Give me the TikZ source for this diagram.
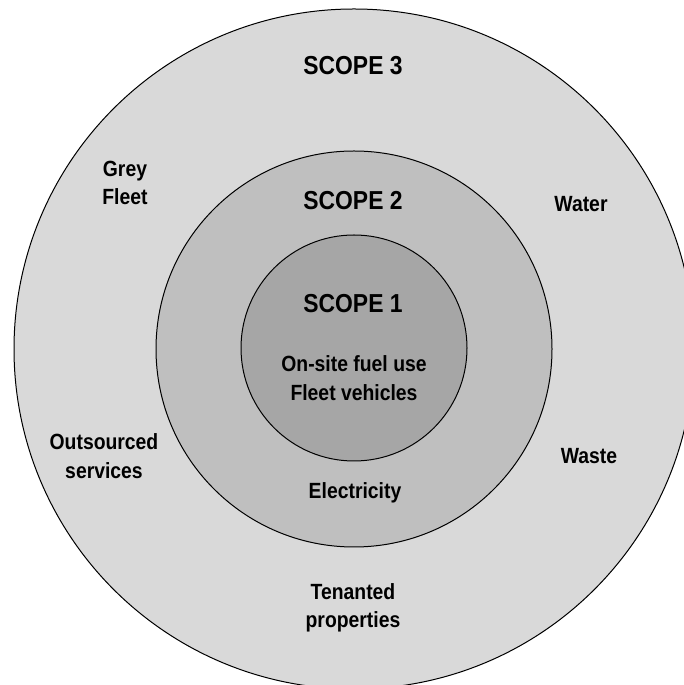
\documentclass[tikz,border=0pt]{standalone}
\usepackage{fontspec}
\setmainfont{Liberation Sans}[FakeStretch=0.88]
\usetikzlibrary{positioning}
\definecolor{ringC}{RGB}{217,217,217}
\definecolor{ringB}{RGB}{191,191,191}
\definecolor{ringA}{RGB}{166,166,166}

\begin{document}
\begin{tikzpicture}[x=1pt,y=1pt,
  ring/.style={circle,draw=black,line width=1pt,inner sep=0pt},
  title/.style={font=\fontsize{26}{30}\selectfont\bfseries},
  item/.style={font=\fontsize{22}{28.5}\selectfont\bfseries,align=center}]
\useasboundingbox (0,0) rectangle (683,685);
% rings, outside in
\node[ring,fill=ringC,minimum size=680pt] (s3) at (354,336) {};
\node[ring,fill=ringB,minimum size=396pt] (s2) at (354,336) {};
\node[ring,fill=ringA,minimum size=226pt] (s1) at (354,337) {};
% scope titles
\node[title] (t3) at (353,619) {SCOPE 3};
\node[title] (t2) at (353,484) {SCOPE 2};
\node[title] (t1) at (353,381) {SCOPE 1};
% scope 1 and 2 sources
\node[item] (fuel) at (354,307) {On-site fuel use\\Fleet vehicles};
\node[item] (elec) at (355,192) {Electricity};
% scope 3 sources
\node[item] (grey) at (125,502) {Grey\\Fleet};
\node[item] (water) at (581,481) {Water};
\node[item] (outs) at (104,229) {Outsourced\\services};
\node[item] (waste) at (589,229) {Waste};
\node[item] (tenant) at (353,77) {Tenanted\\properties};
\end{tikzpicture}
\end{document}
